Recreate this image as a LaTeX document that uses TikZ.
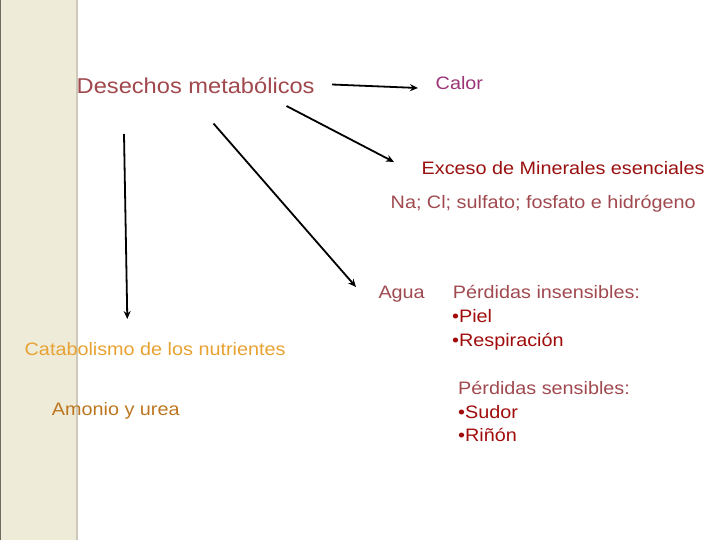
\documentclass[tikz,border=0pt]{standalone}
\usepackage{fontspec}
\setmainfont{Liberation Sans}[FakeStretch=1.1]
\usetikzlibrary{arrows.meta}
\definecolor{bandfill}{HTML}{EEEBD9}
\definecolor{bandedge}{HTML}{6E6C60}
\definecolor{bandshadow}{HTML}{CCC9BA}
\definecolor{cdes}{HTML}{A0484C}
\definecolor{ccalor}{HTML}{9C3477}
\definecolor{cexc}{HTML}{9A1010}
\definecolor{cmuted}{HTML}{A04A50}
\definecolor{cbullet}{HTML}{A00C0C}
\definecolor{ccat}{HTML}{E9A232}
\definecolor{camo}{HTML}{BD7620}
\tikzset{
  lbl/.style={anchor=base west, inner sep=0pt, font=\fontsize{18}{21}\selectfont},
  biglbl/.style={anchor=base west, inner sep=0pt, font=\fontsize{21.5}{25}\selectfont},
  arr/.style={draw=black, line width=1.8pt, -{Stealth[length=8pt,width=7pt]}}
}
\begin{document}
\begin{tikzpicture}[x=1pt,y=-1pt]
\useasboundingbox (0,0) rectangle (720,540);
\fill[white] (0,0) rectangle (720,540);
% left band
\fill[bandfill] (0,0) rectangle (77,540);
\fill[bandshadow] (75.5,0) rectangle (78,540);
\draw[bandedge, line width=1pt] (0.5,0) -- (0.5,540);
% texts
\node[biglbl, text=cdes] (des) at (76.5,93.5) {Desechos metabólicos};
\node[lbl, text=ccalor] (calor) at (435.5,89.5) {Calor};
\node[lbl, text=cexc] (exc) at (421.5,175) {Exceso de Minerales esenciales};
\node[lbl, text=cmuted] (na) at (390.5,209) {Na; Cl; sulfato; fosfato e hidrógeno};
\node[lbl, text=cmuted] (agua) at (378.3,298.5) {Agua};
\node[lbl, text=cmuted] (pins) at (452.7,298.5) {Pérdidas insensibles:};
\node[lbl, text=cbullet] (piel) at (452,322.5) {•Piel};
\node[lbl, text=cbullet] (resp) at (452,346.5) {•Respiración};
\node[lbl, text=cmuted] (psen) at (458,394) {Pérdidas sensibles:};
\node[lbl, text=cbullet] (sud) at (458,418) {•Sudor};
\node[lbl, text=cbullet] (rin) at (458,441.5) {•Riñón};
\node[lbl, text=ccat] (cat) at (24.5,355) {Catabolismo de los nutrientes};
\node[lbl, text=camo] (amo) at (51.7,415) {Amonio y urea};
% connector end points
\coordinate (a1s) at (332,84.5);
\coordinate (a1e) at (418,88);
\coordinate (a2s) at (286.5,106);
\coordinate (a2e) at (394,162);
\coordinate (a3s) at (213.5,123.5);
\coordinate (a3e) at (356,287);
\coordinate (a4s) at (124,134);
\coordinate (a4e) at (127.3,319);
\draw[arr] (a1s) -- (a1e);
\draw[arr] (a2s) -- (a2e);
\draw[arr] (a3s) -- (a3e);
\draw[arr] (a4s) -- (a4e);
\end{tikzpicture}
\end{document}
